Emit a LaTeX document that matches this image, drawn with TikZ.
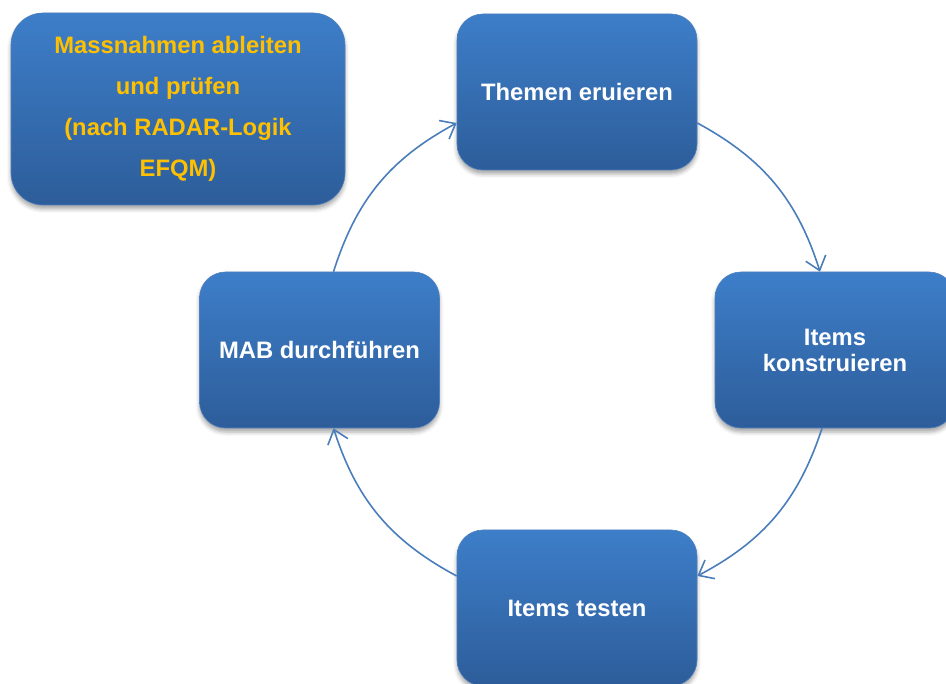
\documentclass[tikz,border=0pt]{standalone}
\usepackage{fontspec}
\setmainfont{Liberation Sans}
\usetikzlibrary{arrows.meta,shadows.blur,calc}
\definecolor{boxtop}{RGB}{61,126,201}
\definecolor{boxbot}{RGB}{45,93,154}
\definecolor{boxline}{RGB}{80,128,190}
\definecolor{arrcol}{RGB}{74,126,187}
\definecolor{gold}{RGB}{255,192,0}
\tikzset{
    rect/.style={ % blue step boxes
        rectangle,
        rounded corners=26pt,
        top color=boxtop,
        bottom color=boxbot,
        draw=boxline,
        line width=0.6pt,
        minimum width=240pt,
        minimum height=156pt,
        text=white,
        align=center,
        font=\fontsize{23.8}{26}\selectfont\bfseries,
        blur shadow={shadow xshift=0pt, shadow yshift=-4pt,
            shadow blur radius=4pt, shadow opacity=35}
        },
    rectg/.style={ % note box, gold text
        rect,
        text=gold,
        minimum width=334pt,
        minimum height=192pt,
        rounded corners=32pt,
        font=\fontsize{23.8}{41}\selectfont\bfseries
        },
    arrout/.style={
        draw=arrcol,
        line width=1.6pt,
        -{Straight Barb[length=13pt,width=21pt]},
        bend left=22
        }
}
\begin{document}
\begin{tikzpicture}[x=1pt,y=-1pt]
\useasboundingbox (0,0) rectangle (946,684);

%%%%% note box
\node[rectg] (massn) at (178,109) {Massnahmen ableiten\\und prüfen\\(nach RADAR-Logik\\EFQM)};

%%%%% cycle steps
\node[rect] (them) at (577,92) {Themen eruieren};
\node[rect] (konst) at (835,350) {Items\\konstruieren};
\node[rect] (test) at (577,608) {Items testen};
\node[rect] (mab) at (319.5,350) {MAB durchführen};

%%%%% arcs of the cycle
\draw[arrout] ($(them.east)+(0,31)$) to ($(konst.north)+(-15,0)$);
\draw[arrout] ($(konst.south)+(-13,0)$) to ($(test.east)+(0,-32)$);
\draw[arrout] ($(test.west)+(0,-32)$) to ($(mab.south)+(14,0)$);
\draw[arrout] ($(mab.north)+(14,0)$) to ($(them.west)+(0,31)$);

\end{tikzpicture}
\end{document}
